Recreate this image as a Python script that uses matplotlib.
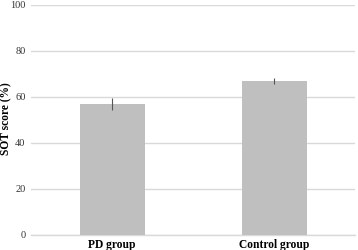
import matplotlib.pyplot as plt

groups = ['PD group', 'Control group']
scores = [57, 67]
errors = [2.5, 1.2]

plt.rcParams['font.family'] = ['Liberation Serif', 'DejaVu Serif']

fig = plt.figure(figsize=(3.58, 2.5), dpi=100)
ax = fig.add_axes([0.087, 0.06, 0.905, 0.92])

ax.bar(range(len(groups)), scores, width=0.4, color='#bfbfbf',
       yerr=errors, error_kw=dict(ecolor='#555555', elinewidth=0.8, capsize=0), zorder=3)

ax.set_xlim(-0.5, 1.5)
ax.set_ylim(0, 100)
ax.set_yticks([0, 20, 40, 60, 80, 100])
ax.set_xticks(range(len(groups)))
ax.set_xticklabels(groups, fontweight='bold', fontsize=8.3)
ax.tick_params(axis='y', labelsize=7.5, length=0, pad=4, colors='#333333')
ax.tick_params(axis='x', length=0, pad=3)
ax.grid(axis='y', color='#d9d9d9', linewidth=1, zorder=0)
for s in ['top', 'right', 'left']:
    ax.spines[s].set_visible(False)
ax.spines['bottom'].set_color('#d9d9d9')
ax.spines['bottom'].set_linewidth(1)

# y label placed by hand so it stays inside the small canvas
fig.text(6 / 358, 1 - 119 / 250, 'SOT score (%)', rotation=90, fontweight='bold',
         fontsize=8.3, ha='center', va='center')

fig.savefig('out.png', dpi=100)
